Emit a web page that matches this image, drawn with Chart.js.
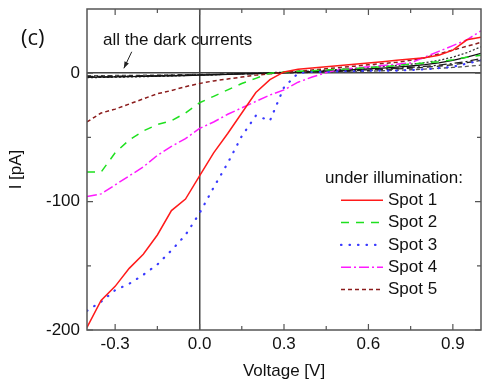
<!DOCTYPE html>
<html>
<head>
<meta charset="utf-8">
<script src="https://cdn.jsdelivr.net/npm/chart.js@4/dist/chart.umd.min.js"></script>
<style>
  html, body { margin: 0; padding: 0; background: #fff; }
  #wrap { width: 482px; height: 384px; }
</style>
</head>
<body>
<div id="wrap"><canvas id="ivChart" width="482" height="384"></canvas></div>
<script>
// voltage grid [V]
const voltage = [-0.4, -0.35, -0.3, -0.25, -0.2, -0.15, -0.1, -0.05, 0, 0.05, 0.1, 0.15, 0.2, 0.25, 0.3,
                 0.35, 0.4, 0.45, 0.5, 0.55, 0.6, 0.65, 0.7, 0.75, 0.8, 0.85, 0.9, 0.95, 1.0];

// currents under illumination [pA]
const spot1 = [-198, -177, -166, -152, -141, -126, -107, -98, -80, -62, -47, -31, -15, -5, 1,
               3, 4, 5, 6, 7, 8, 9, 10, 11, 12, 14, 18, 26, 28];
const spot2 = [-77, -77, -62, -52, -45, -40, -37, -31, -23, -18, -13, -8, -4, 0, 1,
               1.5, 2, 2.5, 3, 3.5, 4.5, 5, 6, 7, 8, 9, 10.5, 12.5, 14];
const spot3 = [-185, -178, -169, -164, -157, -149, -138, -126, -109, -89, -70, -49, -33, -37, -11,
               0, 1, 1, 1.5, 1.5, 2, 2, 2, 2.5, 3, 4, 5, 7.5, 10];
const spot4 = [-96, -94, -87, -80, -73, -64, -57, -51, -43, -38, -32, -27, -22, -17, -13,
               -7, -3, 0.5, 3, 4, 5, 6, 7, 8, 12.5, 17, 21.5, 26, 33];
const spot5 = [-38, -31, -28, -24, -20, -16, -13.5, -10.5, -8, -6, -4.5, -3, -1.5, -0.5, 0.5,
               1.5, 2.5, 3.5, 4.5, 5.5, 6.5, 7.5, 8.5, 10, 12, 15, 18, 21, 24];

// dark currents [pA]
const dark1 = [-3, -3, -2.8, -2.6, -2.4, -2.2, -2, -1.8, -1.5, -1.2, -0.9, -0.6, -0.3, 0, 0.4,
               0.8, 1.2, 1.7, 2.2, 2.8, 3.4, 4, 4.8, 5.6, 6.6, 8, 10, 12.5, 15.5];
const dark2 = [-3.5, -3.3, -3.1, -2.9, -2.7, -2.4, -2.1, -1.8, -1.5, -1.2, -0.8, -0.4, 0, 0.4, 0.8,
               1.3, 1.8, 2.4, 3, 3.7, 4.4, 5.2, 6, 7, 8.2, 10, 12.5, 16, 20.5];
const dark3 = [-2.5, -2.4, -2.3, -2.2, -2, -1.8, -1.6, -1.4, -1.2, -1, -0.8, -0.5, -0.3, 0, 0.2,
               0.5, 0.8, 1.1, 1.5, 1.9, 2.3, 2.8, 3.3, 3.9, 4.6, 5.5, 6.6, 8.2, 10];
const dark4 = [-3, -2.9, -2.7, -2.5, -2.3, -2.1, -1.9, -1.7, -1.4, -1.1, -0.8, -0.5, -0.2, 0.1, 0.4,
               0.7, 1, 1.4, 1.8, 2.2, 2.7, 3.2, 3.8, 4.5, 5.3, 6.3, 7.6, 9.2, 11.5];
const dark5 = [-2, -1.9, -1.8, -1.7, -1.6, -1.5, -1.3, -1.1, -0.9, -0.7, -0.5, -0.3, -0.1, 0, 0.2,
               0.4, 0.6, 0.8, 1, 1.3, 1.6, 1.9, 2.3, 2.7, 3.2, 3.8, 4.5, 5.3, 6.3];

// axis ticks
const xTicks = [-0.3, -0.15, 0, 0.15, 0.3, 0.45, 0.6, 0.75, 0.9];
const xMajor = [-0.3, 0, 0.3, 0.6, 0.9];
const yTicks = [-200, -150, -100, -50, 0];
const yMajor = [-200, -100, 0];

const legendTitle = 'under illumination:';
const spotLabels = ['Spot 1', 'Spot 2', 'Spot 3', 'Spot 4', 'Spot 5'];

const FONT = "'Liberation Sans', Arial, sans-serif";

function pts(ys) {
    return voltage.map((v, i) => ({ x: v, y: ys[i] }));
}

function line(label, ys, color, dash, width, cap) {
    return {
        label: label,
        data: pts(ys),
        borderColor: color,
        backgroundColor: color,
        borderDash: dash,
        borderWidth: width || 1.5,
        borderCapStyle: cap || 'butt',
        pointRadius: 0,
        showLine: true,
        fill: false,
        tension: 0
    };
}

const isMajor = (list, v) => list.some(m => Math.abs(m - v) < 1e-9);

// inward tick marks, top/right frame and the annotations
const framePlugin = {
    id: 'frame',
    afterDraw(chart) {
        const { ctx, chartArea: a, scales } = chart;
        const xs = scales.x, ys = scales.y;
        ctx.save();
        ctx.strokeStyle = '#555';
        ctx.lineWidth = 1.5;
        ctx.strokeRect(a.left, a.top, a.right - a.left, a.bottom - a.top);

        ctx.lineWidth = 1.2;
        ctx.beginPath();
        xTicks.forEach(v => {
            const px = xs.getPixelForValue(v);
            const len = isMajor(xMajor, v) ? 6 : 4;
            ctx.moveTo(px, a.bottom); ctx.lineTo(px, a.bottom - len);
            ctx.moveTo(px, a.top); ctx.lineTo(px, a.top + len);
        });
        yTicks.forEach(v => {
            const py = ys.getPixelForValue(v);
            const len = isMajor(yMajor, v) ? 6 : 4;
            ctx.moveTo(a.left, py); ctx.lineTo(a.left + len, py);
            ctx.moveTo(a.right, py); ctx.lineTo(a.right - len, py);
        });
        ctx.stroke();

        // panel letter
        ctx.fillStyle = '#111';
        ctx.font = "22px 'Open Sans', sans-serif";
        ctx.textBaseline = 'middle';
        ctx.textAlign = 'left';
        ctx.fillText('(c)', 21, 39);

        // dark current note with arrow
        ctx.font = '17px ' + FONT;
        ctx.fillText('all the dark currents', xs.getPixelForValue(-0.343), ys.getPixelForValue(26));
        const x0 = xs.getPixelForValue(-0.241), y0 = ys.getPixelForValue(16.7);
        const x1 = xs.getPixelForValue(-0.269), y1 = ys.getPixelForValue(3.8);
        ctx.strokeStyle = '#222';
        ctx.lineWidth = 1;
        ctx.beginPath();
        ctx.moveTo(x0, y0); ctx.lineTo(x1, y1);
        ctx.stroke();
        const ang = Math.atan2(y1 - y0, x1 - x0);
        ctx.beginPath();
        ctx.moveTo(x1, y1);
        ctx.lineTo(x1 - 7 * Math.cos(ang - 0.35), y1 - 7 * Math.sin(ang - 0.35));
        ctx.lineTo(x1 - 7 * Math.cos(ang + 0.35), y1 - 7 * Math.sin(ang + 0.35));
        ctx.closePath();
        ctx.fillStyle = '#222';
        ctx.fill();

        // legend for the illuminated spots
        const lx = a.right - 156, ly = a.top + 169;
        ctx.fillStyle = '#111';
        ctx.fillText(legendTitle, lx, ly);
        chart.data.datasets.slice(0, spotLabels.length).forEach((ds, i) => {
            const yy = ly + 22.3 * (i + 1);
            ctx.strokeStyle = ds.borderColor;
            ctx.lineWidth = ds.borderWidth;
            ctx.lineCap = ds.borderCapStyle;
            ctx.setLineDash(ds.borderDash || []);
            ctx.beginPath();
            ctx.moveTo(lx + 16, yy); ctx.lineTo(lx + 58, yy);
            ctx.stroke();
            ctx.setLineDash([]);
            ctx.lineCap = 'butt';
            ctx.fillText(ds.label, lx + 63, yy);
        });
        ctx.restore();
    }
};

const zeroColor = (ctx) => (ctx.tick && Math.abs(ctx.tick.value) < 1e-9) ? '#444' : 'rgba(0,0,0,0)';

new Chart(document.getElementById('ivChart'), {
    type: 'scatter',
    data: {
        datasets: [
            line(spotLabels[0], spot1, '#ff1a1a', []),
            line(spotLabels[1], spot2, '#1ee01e', [8, 7]),
            line(spotLabels[2], spot3, '#3a3aff', [0.5, 8], 2.2, 'round'),
            line(spotLabels[3], spot4, '#ff1aff', [10, 3, 2, 3]),
            line(spotLabels[4], spot5, '#8b1c1c', [4, 3]),
            line('dark', dark1, '#111', [], 1.3),
            line('dark', dark2, '#333', [2, 2], 1.3),
            line('dark', dark3, '#222', [6, 4], 1.3),
            line('dark', dark4, '#222', [8, 3, 2, 3], 1.3),
            line('dark', dark5, '#555', [4, 3], 1.3)
        ]
    },
    options: {
        responsive: false,
        animation: false,
        events: [],
        devicePixelRatio: 1,
        layout: { padding: { top: 9, right: 1, left: 0, bottom: 0 } },
        plugins: {
            legend: { display: false },
            tooltip: { enabled: false }
        },
        scales: {
            x: {
                type: 'linear',
                min: -0.4,
                max: 1.0,
                afterBuildTicks: (s) => { s.ticks = xTicks.map(v => ({ value: v })); },
                afterFit: (s) => { s.height = 54; s.paddingLeft = 0; s.paddingRight = 0; },
                grid: { color: zeroColor, lineWidth: 1.5, drawTicks: false },
                border: { display: false },
                ticks: {
                    padding: 4,
                    autoSkip: false,
                    maxRotation: 0,
                    color: '#111',
                    font: { family: FONT, size: 17 },
                    callback: (v) => isMajor(xMajor, v) ? v.toFixed(1) : ''
                },
                title: {
                    display: true,
                    text: 'Voltage [V]',
                    color: '#111',
                    font: { family: FONT, size: 17 },
                    padding: { top: 0, bottom: 2 }
                }
            },
            y: {
                type: 'linear',
                min: -200,
                max: 50,
                afterBuildTicks: (s) => { s.ticks = yTicks.map(v => ({ value: v })); },
                afterFit: (s) => { s.width = 87; s.paddingTop = 0; s.paddingBottom = 0; },
                grid: { color: zeroColor, lineWidth: 1.5, drawTicks: false },
                border: { display: false },
                ticks: {
                    padding: 7,
                    autoSkip: false,
                    color: '#111',
                    font: { family: FONT, size: 17 },
                    callback: (v) => isMajor(yMajor, v) ? String(v) : ''
                },
                title: {
                    display: true,
                    text: 'I [pA]',
                    color: '#111',
                    font: { family: FONT, size: 17 },
                    padding: { top: 6, bottom: 0 }
                }
            }
        }
    },
    plugins: [framePlugin]
});
</script>
</body>
</html>
